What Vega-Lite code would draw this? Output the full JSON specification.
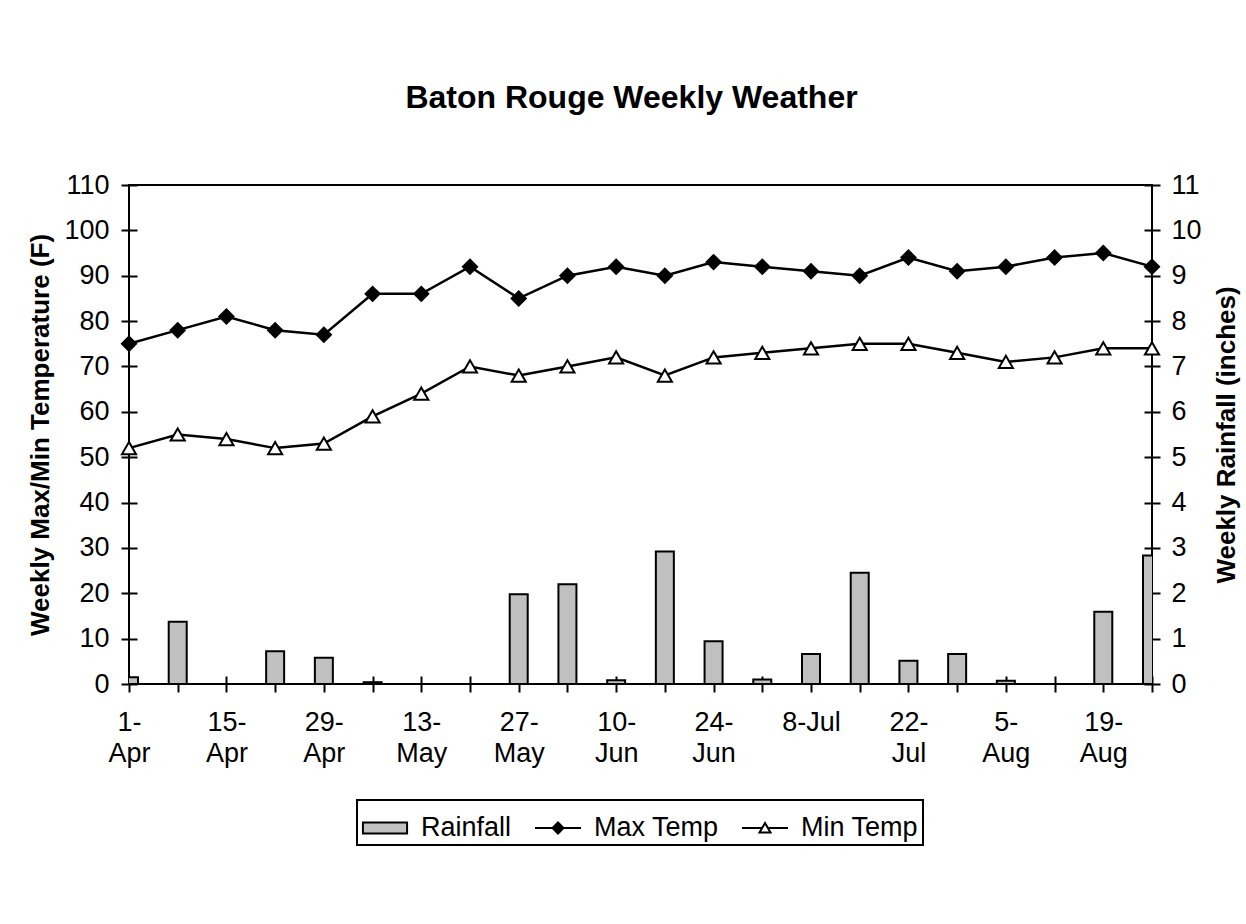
{
  "$schema": "https://vega.github.io/schema/vega-lite/v6.json",
  "width": 1023,
  "height": 499,
  "autosize": {"type": "none"},
  "padding": {"left": 129, "top": 185, "right": 94, "bottom": 240},
  "background": "white",
  "config": {
    "font": "Liberation Sans",
    "view": {"stroke": "black", "strokeWidth": 2},
    "axis": {
      "domain": false,
      "grid": false,
      "ticks": true,
      "tickColor": "black",
      "tickWidth": 2,
      "tickSize": 16,
      "offset": -8,
      "labelFont": "Liberation Sans",
      "labelFontSize": 27,
      "labelColor": "black",
      "titleFont": "Liberation Sans",
      "titleFontSize": 26,
      "titleFontWeight": "bold",
      "titleColor": "black",
      "zindex": 1
    }
  },
  "title": {
    "text": "Baton Rouge Weekly Weather",
    "fontSize": 32,
    "fontWeight": "bold",
    "font": "Liberation Sans",
    "color": "black",
    "anchor": "middle",
    "frame": "group",
    "baseline": "alphabetic",
    "offset": 31,
    "dx": -9
  },
  "data": {
    "values": [
      {"Week": "1-Apr", "Rainfall": 0.15, "Max Temp": 75, "Min Temp": 52},
      {"Week": "8-Apr", "Rainfall": 1.37, "Max Temp": 78, "Min Temp": 55},
      {"Week": "15-Apr", "Rainfall": 0, "Max Temp": 81, "Min Temp": 54},
      {"Week": "22-Apr", "Rainfall": 0.72, "Max Temp": 78, "Min Temp": 52},
      {"Week": "29-Apr", "Rainfall": 0.58, "Max Temp": 77, "Min Temp": 53},
      {"Week": "6-May", "Rainfall": 0.04, "Max Temp": 86, "Min Temp": 59},
      {"Week": "13-May", "Rainfall": 0, "Max Temp": 86, "Min Temp": 64},
      {"Week": "20-May", "Rainfall": 0, "Max Temp": 92, "Min Temp": 70},
      {"Week": "27-May", "Rainfall": 1.98, "Max Temp": 85, "Min Temp": 68},
      {"Week": "3-Jun", "Rainfall": 2.2, "Max Temp": 90, "Min Temp": 70},
      {"Week": "10-Jun", "Rainfall": 0.08, "Max Temp": 92, "Min Temp": 72},
      {"Week": "17-Jun", "Rainfall": 2.92, "Max Temp": 90, "Min Temp": 68},
      {"Week": "24-Jun", "Rainfall": 0.94, "Max Temp": 93, "Min Temp": 72},
      {"Week": "1-Jul", "Rainfall": 0.1, "Max Temp": 92, "Min Temp": 73},
      {"Week": "8-Jul", "Rainfall": 0.66, "Max Temp": 91, "Min Temp": 74},
      {"Week": "15-Jul", "Rainfall": 2.45, "Max Temp": 90, "Min Temp": 75},
      {"Week": "22-Jul", "Rainfall": 0.51, "Max Temp": 94, "Min Temp": 75},
      {"Week": "29-Jul", "Rainfall": 0.66, "Max Temp": 91, "Min Temp": 73},
      {"Week": "5-Aug", "Rainfall": 0.07, "Max Temp": 92, "Min Temp": 71},
      {"Week": "12-Aug", "Rainfall": 0, "Max Temp": 94, "Min Temp": 72},
      {"Week": "19-Aug", "Rainfall": 1.59, "Max Temp": 95, "Min Temp": 74},
      {"Week": "26-Aug", "Rainfall": 2.83, "Max Temp": 92, "Min Temp": 74}
    ]
  },
  "encoding": {
    "x": {
      "field": "Week",
      "type": "ordinal",
      "sort": null,
      "scale": {"type": "point", "padding": 0},
      "axis": {
        "title": null,
        "labelAngle": 0,
        "labelOverlap": false,
        "labelPadding": 17,
        "labelLineHeight": 31,
        "labelExpr": "indexof(['1-Apr','15-Apr','29-Apr','13-May','27-May','10-Jun','24-Jun','8-Jul','22-Jul','5-Aug','19-Aug'], datum.value) < 0 ? '' : (datum.value == '8-Jul' ? '8-Jul' : [split(datum.value, '-')[0] + '-', split(datum.value, '-')[1]])"
      }
    }
  },
  "layer": [
    {
      "mark": {"type": "bar", "width": 18, "stroke": "black", "strokeWidth": 2, "clip": true},
      "encoding": {
        "y": {
          "field": "Rainfall",
          "type": "quantitative",
          "scale": {"domain": [0, 11], "nice": false},
          "axis": {
            "orient": "right",
            "values": [0, 1, 2, 3, 4, 5, 6, 7, 8, 9, 10, 11],
            "title": "Weekly Rainfall (inches)",
            "titleAngle": 270,
            "titleBaseline": "top",
            "titlePadding": 12,
            "labelPadding": 11
          }
        },
        "fill": {
          "datum": "Rainfall",
          "type": "nominal",
          "scale": {"domain": ["Rainfall", "Max Temp", "Min Temp"], "range": ["#c0c0c0", "black", "white"]},
          "legend": {
            "title": null,
            "orient": "none",
            "legendX": 228,
            "legendY": 615,
            "direction": "horizontal",
            "padding": 4,
            "columnPadding": 19,
            "labelOffset": 12,
            "labelFontSize": 27,
            "labelFont": "Liberation Sans",
            "labelColor": "black",
            "strokeColor": "black",
            "symbolSize": 2116,
            "symbolStrokeWidth": 2,
            "symbolStrokeColor": "black",
            "symbolOpacity": 1,
            "encode": {
              "symbols": {
                "update": {
                  "shape": {"signal": "datum.value == 'Rainfall' ? 'M-0.96,-0.24H0.96V0.24H-0.96Z' : (datum.value == 'Max Temp' ? 'M-1,0H1M0,-0.24L0.24,0L0,0.24L-0.24,0Z' : 'M-1,0H-0.12M0.12,0H1M0,-0.22L0.24,0.2H-0.24Z')"},
                  "size": {"value": 2116},
                  "stroke": {"value": "black"},
                  "strokeWidth": {"value": 2},
                  "opacity": {"value": 1}
                }
              },
              "legend": {
                "update": {"strokeWidth": {"value": 2}}
              }
            }
          }
        }
      }
    },
    {
      "transform": [{"fold": ["Max Temp", "Min Temp"], "as": ["series", "temp"]}],
      "encoding": {
        "y": {
          "field": "temp",
          "type": "quantitative",
          "scale": {"domain": [0, 110], "nice": false},
          "axis": {
            "orient": "left",
            "values": [0, 10, 20, 30, 40, 50, 60, 70, 80, 90, 100, 110],
            "title": "Weekly Max/Min Temperature (F)",
            "titlePadding": 10,
            "labelPadding": 12
          }
        }
      },
      "layer": [
        {
          "mark": {"type": "line", "stroke": "black", "strokeWidth": 2.5},
          "encoding": {"detail": {"field": "series"}}
        },
        {
          "mark": {"type": "point", "filled": true, "size": 200, "stroke": "black", "strokeWidth": 2, "opacity": 1},
          "encoding": {
            "shape": {
              "field": "series",
              "type": "nominal",
              "scale": {"domain": ["Max Temp", "Min Temp"], "range": ["diamond", "triangle-up"]},
              "legend": null
            },
            "fill": {"field": "series", "type": "nominal", "legend": {"title": null}}
          }
        }
      ]
    }
  ],
  "resolve": {"scale": {"y": "independent"}}
}
